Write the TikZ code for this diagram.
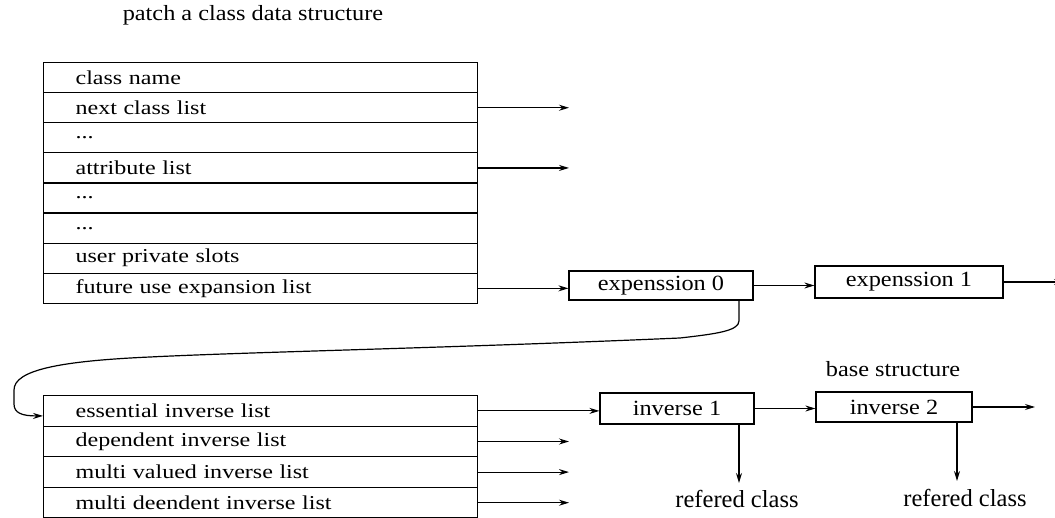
\documentclass[tikz,border=0pt]{standalone}
\usepackage{fontspec}
\setmainfont{Liberation Serif}
\newfontfamily\tabff{Liberation Serif}[FakeStretch=1.22]
\newfontfamily\boxff{Liberation Serif}[FakeStretch=1.12]
\usetikzlibrary{arrows.meta}
\tikzset{
  row/.style={draw, anchor=north west, minimum height=30.1pt, text width=370pt,
    inner xsep=32pt, inner ysep=0pt, align=left,
    font=\tabff\fontsize{19.7pt}{22pt}\selectfont},
  lrow/.style={row, minimum height=30.6pt},
  bx/.style={draw, inner sep=0pt, font=\boxff\fontsize{21.7pt}{24pt}\selectfont},
  lbl/.style={inner sep=0pt, font=\boxff\fontsize{21.7pt}{24pt}\selectfont},
  rc/.style={inner sep=0pt, font=\fontsize{24.5pt}{27pt}\selectfont},
  conn/.style={-{Stealth[length=10pt,width=6pt]}},
}
\begin{document}
\begin{tikzpicture}[x=1pt,y=-1pt,line width=1.2pt]
\clip (0,0) rectangle (1055,518);
\fill[white] (0,0) rectangle (1055,518);

\node[lbl] (title) at (253,15) {patch a class data structure};

% top table
\node[row] (r1) at (43,62.0) {class name};
\node[row] (r2) at (43,92.1) {next class list};
\node[row] (r3) at (43,122.2) {...};
\node[row] (r4) at (43,152.3) {attribute list};
\node[row] (r5) at (43,182.4) {...};
\node[row] (r6) at (43,212.5) {...};
\node[row] (r7) at (43,242.6) {user private slots};
\node[row] (r8) at (43,272.7) {future use expansion list};

\coordinate (a2) at (569,107);
\coordinate (a4) at (569,167);
\draw[conn] (r2.east) -- (r2.east -| a2);
\draw[conn] (r4.east) -- (r4.east -| a4);

% expansion boxes
\node[bx, minimum width=184pt, minimum height=29pt] (e0) at (661,285.5) {expenssion 0};
\node[bx, minimum width=188pt, minimum height=32pt] (e1) at (909,282) {expenssion 1};
\coordinate (eout) at (1064,282);
\draw[conn] (r8.east) -- (r8.east -| e0.west);
\draw[conn] (e0.east) -- (e0.east -| e1.west);
\draw[conn] (e1.east) -- (eout);

% bottom table
\node[lrow] (b1) at (43,395.0) {essential inverse list};
\node[lrow] (b2) at (43,425.6) {dependent inverse list};
\node[lrow] (b3) at (43,456.2) {multi valued inverse list};
\node[lrow] (b4) at (43,486.8) {multi deendent inverse list};

% link from expenssion 0 to bottom table
\draw[conn] (e0.south -| 739,0) -- (739,321)
  .. controls (739,331) and (715,334) .. (680,338)
  .. controls (450,348) and (250,352) .. (150,357)
  .. controls (60,361) and (14,370) .. (14,390)
  -- (14,404)
  .. controls (14,413) and (22,416) .. ([yshift=-5pt]b1.west);

\coordinate (a6) at (569,441);
\coordinate (a7) at (569,471);
\coordinate (a8) at (569,502);
\draw[conn] (b2.east) -- (b2.east -| a6);
\draw[conn] (b3.east) -- (b3.east -| a7);
\draw[conn] (b4.east) -- (b4.east -| a8);

% inverse boxes
\node[bx, minimum width=154pt, minimum height=31pt] (i1) at (677,408.5) {inverse 1};
\node[bx, minimum width=156pt, minimum height=30pt] (i2) at (894,407) {inverse 2};
\node[lbl] (base) at (893,369) {base structure};
\coordinate (iout) at (1035,407);
\draw[conn] (b1.east) -- (b1.east -| i1.west);
\draw[conn] (i1.east) -- (i1.east -| i2.west);
\draw[conn] (i2.east) -- (iout);

\node[rc] (c1) at (737,499) {refered class};
\node[rc] (c2) at (965,498) {refered class};
\draw[conn] (i1.south -| 739,0) -- (739,483);
\draw[conn] (i2.south -| 957,0) -- (957,481);
\end{tikzpicture}
\end{document}
